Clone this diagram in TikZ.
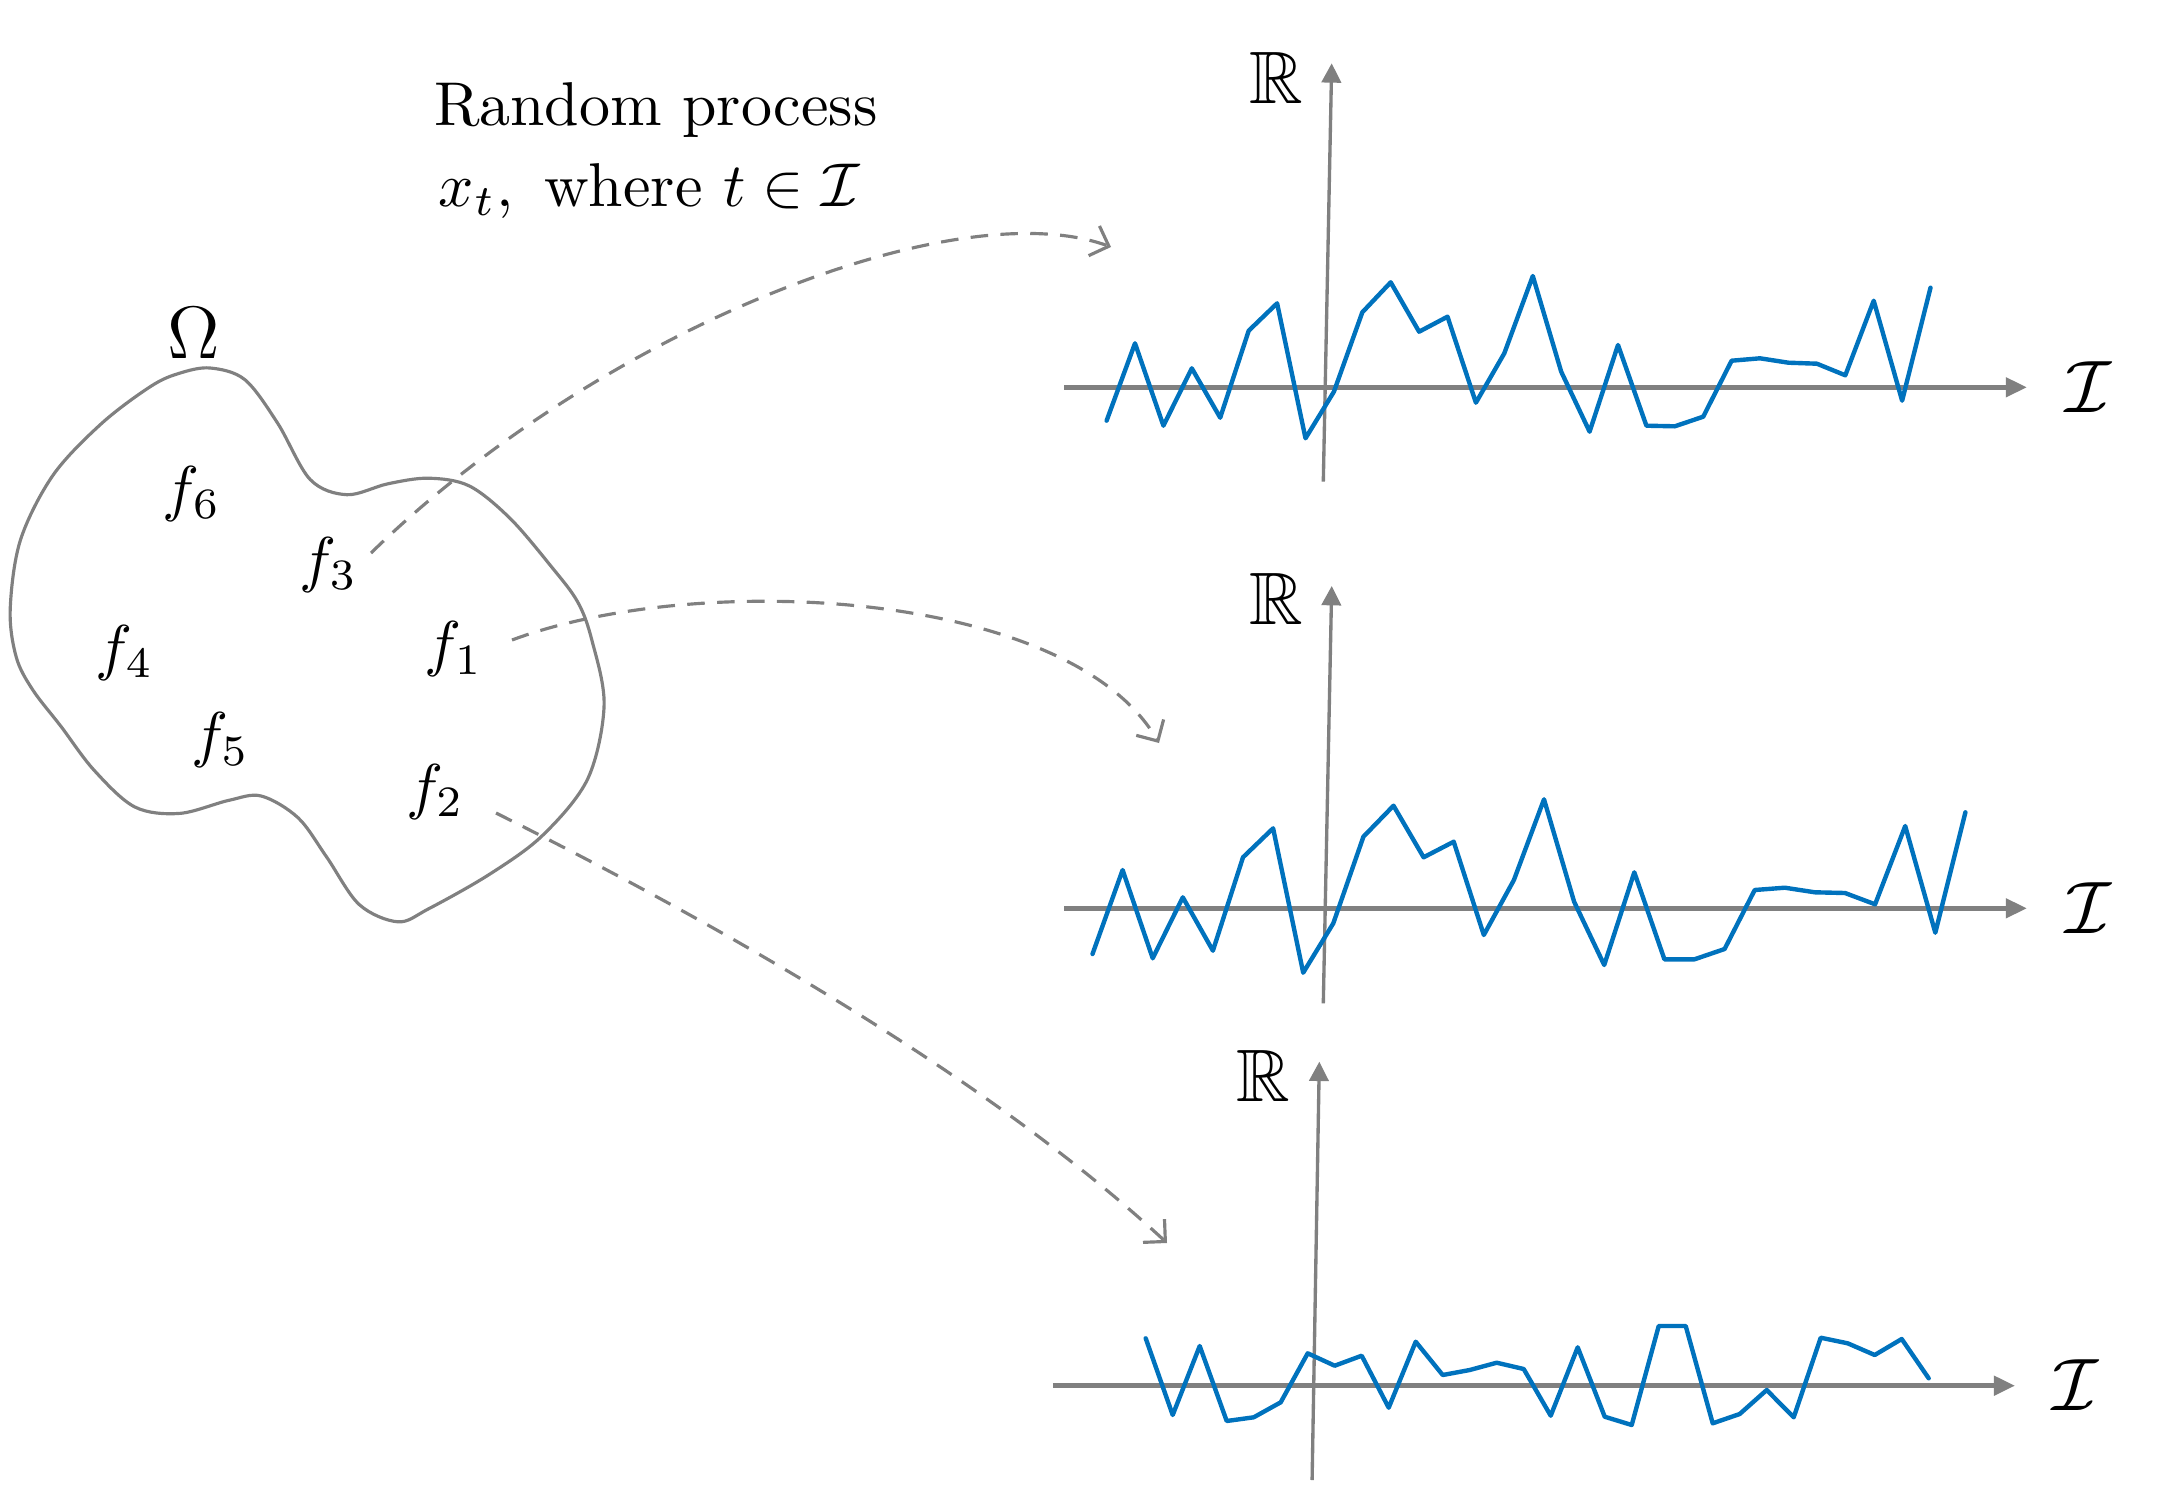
\documentclass[tikz,border=0pt]{standalone}
\usepackage{amssymb,amsmath,graphicx}
\usetikzlibrary{arrows.meta}
\definecolor{plotblue}{RGB}{0,114,189}
\definecolor{axgray}{RGB}{128,128,128}
\newcommand{\sbx}[1]{\scalebox{1.76}{#1}}
\tikzset{
  lbl/.style={inner sep=0pt},
  xaxis/.style={draw=axgray, line width=1.35pt, -{Triangle[length=6pt,width=5.4pt]}},
  yaxis/.style={draw=axgray, line width=0.95pt, -{Triangle[length=5.5pt,width=5.5pt]}},
  signal/.style={draw=plotblue, line width=1.25pt, line join=round, line cap=round},
  blob/.style={draw=axgray, line width=0.9pt},
  conn/.style={draw=axgray, line width=0.9pt, dash pattern=on 5pt off 3.5pt, -{Straight Barb[length=4.5pt,width=9pt]}}
}
\begin{document}
\begin{tikzpicture}[x=0.01cm, y=-0.01cm]
\useasboundingbox (0,0) rectangle (2160,1512);

% blob Omega
\draw[blob] plot[smooth cycle, tension=0.55] coordinates {
 (179.6,373.2) (210.2,368) (244.9,379.7) (277.6,423.1) (310.2,479.5) (346.9,494.7)
 (387.8,483.8) (428.6,478.2) (469.4,486) (510.2,518.5) (551,566.2) (577.6,601.8)
 (591.8,639.9) (604.1,705) (587.8,778.7) (542.9,835.1) (489.8,874.1) (428.6,908.8)
 (398,921.8) (359.2,904.5) (326.5,856.8) (298,817.7) (261.2,796) (228.6,800.4)
 (179.6,813.4) (134.7,806.9) (93.9,770) (61.2,726.7) (32.7,689.8) (16.3,657.3)
 (10.2,609.6) (20.4,540.2) (53.1,475.1) (102,423.1) (151,386.2)};
\node[lbl] (omega) at (194.2,333) {\sbx{\large$\Omega$}};

\node[lbl] (f6) at (191.8,493.6) {\sbx{$f_6$}};
\node[lbl] (f3) at (328.6,565.1) {\sbx{$f_3$}};
\node[lbl] (f4) at (124.5,652.9) {\sbx{$f_4$}};
\node[lbl] (f1) at (453.9,649.5) {\sbx{$f_1$}};
\node[lbl] (f5) at (220.4,740.5) {\sbx{$f_5$}};
\node[lbl] (f2) at (435.1,791.7) {\sbx{$f_2$}};

% title
\node[anchor=base, lbl] (title1) at (655.8,125.5) {\sbx{Random process}};
\node[anchor=base, lbl] (title2) at (649.2,206.7) {\sbx{$x_t, \text{ where } t \in \mathcal{I}$}};

% top plot
\draw[xaxis] (1064.2,387.3) -- (2026.9,387.3);
\draw[yaxis] (1323.3,481.7) -- (1331.7,63.3);
\node[lbl] (R1) at (1276.5,78) {\sbx{\large$\mathbb{R}$}};
\node[lbl] (I1) at (2088.5,387) {\sbx{\large$\mathcal{I}$}};
\draw[signal] plot coordinates {
 (1106.6,420.7) (1135.0,343.3) (1163.4,425.7) (1191.8,368.3) (1220.2,417.7) (1248.7,330.7)
 (1277.1,303.3) (1305.5,438.3) (1333.9,391.7) (1362.3,312.3) (1390.7,282.3) (1419.1,331.7)
 (1447.5,316.7) (1475.9,402.7) (1504.3,353.3) (1532.8,276) (1561.2,371.7) (1589.6,431.7)
 (1618.0,345) (1646.4,425.7) (1674.8,426.3) (1703.2,416.7) (1731.6,360.7) (1760.0,358.3)
 (1788.4,362.7) (1816.9,363.7) (1845.3,375.3) (1873.7,300.7) (1902.1,400.7) (1930.5,287.7)};

% middle plot
\draw[xaxis] (1064.2,908.3) -- (2026.9,908.3);
\draw[yaxis] (1323.3,1003.3) -- (1331.7,586);
\node[lbl] (R2) at (1276.5,599.3) {\sbx{\large$\mathbb{R}$}};
\node[lbl] (I2) at (2088.5,908.3) {\sbx{\large$\mathcal{I}$}};
\draw[signal] plot coordinates {
 (1092.5,954) (1122.6,870) (1152.7,958.3) (1182.8,897.3) (1212.9,950.7) (1243.0,857.3)
 (1273.1,828.3) (1303.2,972.7) (1333.3,923.3) (1363.4,836.7) (1393.5,805.7) (1423.6,857.3)
 (1453.7,841.7) (1483.8,935) (1513.9,880) (1544.0,799.3) (1574.1,901.7) (1604.2,965)
 (1634.3,872.3) (1664.4,959.3) (1694.5,959.3) (1724.6,949) (1754.7,890) (1784.8,887.7)
 (1814.9,892.3) (1845.0,893) (1875.1,904.3) (1905.2,826) (1935.3,932.7) (1965.4,812.3)};

% bottom plot
\draw[xaxis] (1052.9,1385.7) -- (2015,1385.7);
\draw[yaxis] (1312.1,1480) -- (1319.3,1061.7);
\node[lbl] (R3) at (1263.6,1076) {\sbx{\large$\mathbb{R}$}};
\node[lbl] (I3) at (2075.7,1385) {\sbx{\large$\mathcal{I}$}};
\draw[signal] plot coordinates {
 (1145.7,1338.3) (1172.7,1415) (1199.7,1346) (1226.7,1421) (1253.7,1417.3) (1280.7,1402.3)
 (1307.7,1353.3) (1334.7,1365.7) (1361.7,1355.7) (1388.7,1407.7) (1415.7,1341.7) (1442.7,1375)
 (1469.7,1370) (1496.7,1362.7) (1523.7,1369) (1550.7,1415.7) (1577.7,1347.3) (1604.7,1416.7)
 (1631.7,1425) (1658.7,1326) (1685.7,1326) (1712.7,1423.3) (1739.7,1414) (1766.7,1390)
 (1793.7,1417.3) (1820.7,1337.7) (1847.7,1343.3) (1874.7,1355) (1901.7,1339) (1928.7,1378.3)};

% connectors
\coordinate (s3) at (371,553);
\coordinate (e3) at (1111,247);
\coordinate (s1) at (512,640);
\coordinate (e1) at (1159,743);
\coordinate (s2) at (496,813);
\coordinate (e2) at (1167,1243);
\draw[conn] (s3) .. controls (600,330) and (955,190) .. (e3);
\draw[conn] (s1) .. controls (700,570) and (1070,590) .. (e1);
\draw[conn] (s2) .. controls (700,915) and (980,1070) .. (e2);
\end{tikzpicture}
\end{document}
